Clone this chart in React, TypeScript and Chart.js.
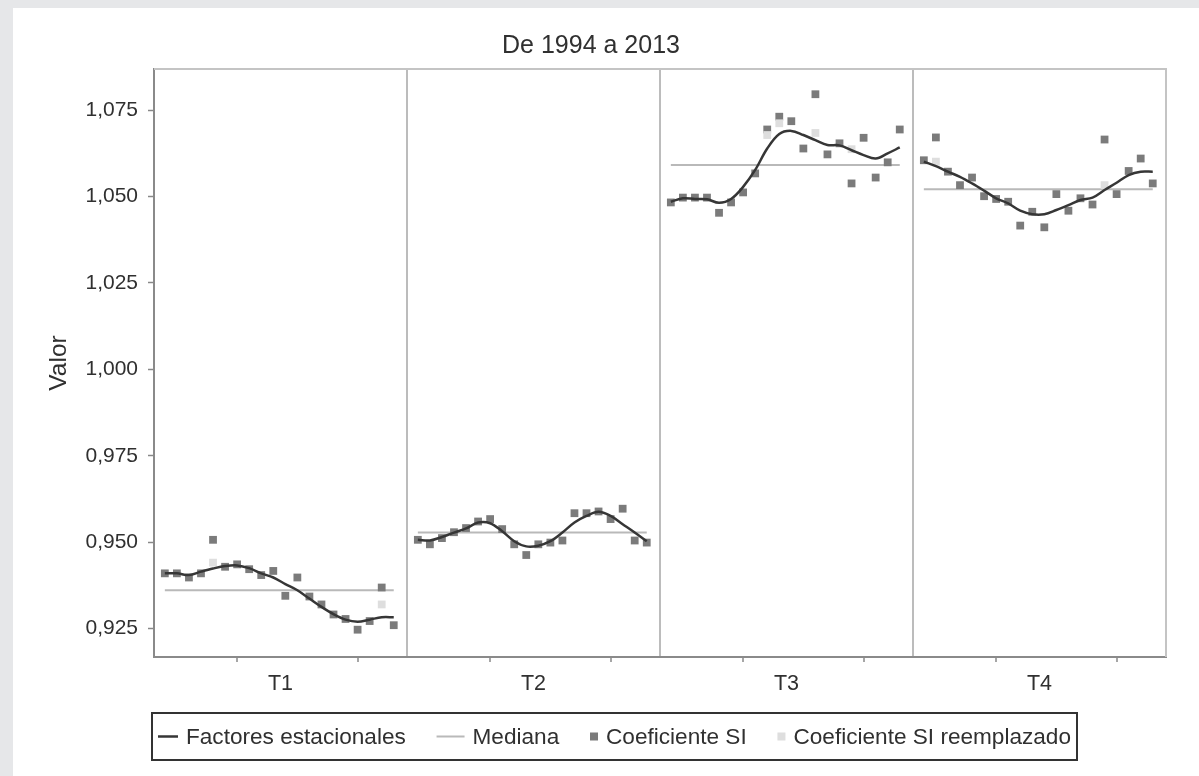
import React, { useEffect, useRef } from 'react';
import { Chart, registerables } from 'chart.js';

Chart.register(...registerables);

// ---------- data ----------
const quarters = ['T1', 'T2', 'T3', 'T4'];
const years = [1994, 1995, 1996, 1997, 1998, 1999, 2000, 2001, 2002, 2003, 2004, 2005, 2006, 2007, 2008, 2009, 2010, 2011, 2012, 2013];
const yearTickYears = [2000, 2010];
const yTickValues = [0.925, 0.95, 0.975, 1.0, 1.025, 1.05, 1.075];

const factorT1 = [0.941, 0.941, 0.9405, 0.9415, 0.9424, 0.9431, 0.9433, 0.9425, 0.941, 0.9398, 0.9379, 0.9361, 0.9337, 0.9313, 0.9292, 0.9276, 0.927, 0.9276, 0.9283, 0.9283];
const factorT2 = [0.9507, 0.9505, 0.9515, 0.9528, 0.954, 0.9557, 0.9555, 0.9532, 0.9503, 0.9488, 0.949, 0.9503, 0.9528, 0.9557, 0.9576, 0.9588, 0.9576, 0.9552, 0.9528, 0.9503];
const factorT3 = [1.0485, 1.0495, 1.0493, 1.0492, 1.0482, 1.0493, 1.0528, 1.0577, 1.0639, 1.0681, 1.069, 1.0678, 1.0663, 1.0649, 1.0648, 1.0634, 1.062, 1.061, 1.0625, 1.0642];
const factorT4 = [1.0601, 1.0588, 1.0572, 1.0557, 1.0538, 1.0517, 1.0495, 1.048, 1.0459, 1.0449, 1.0449, 1.0461, 1.0475, 1.049, 1.0497, 1.0519, 1.054, 1.0562, 1.0572, 1.0572];

const siT1 = [0.941, 0.941, 0.9398, 0.941, 0.9507, 0.9429, 0.9436, 0.9422, 0.9405, 0.9417, 0.9345, 0.9398, 0.9343, 0.932, 0.9291, 0.9278, 0.9247, 0.9272, 0.9369, 0.926];
const siT2 = [0.9507, 0.9494, 0.9512, 0.9529, 0.9541, 0.956, 0.9567, 0.9538, 0.9494, 0.9463, 0.9494, 0.9499, 0.9505, 0.9584, 0.9584, 0.9589, 0.9567, 0.9597, 0.9505, 0.9499];
const siT3 = [1.0483, 1.0497, 1.0497, 1.0497, 1.0453, 1.0483, 1.0512, 1.0567, 1.0694, 1.0731, 1.0718, 1.0639, 1.0796, 1.0622, 1.0654, 1.0538, 1.067, 1.0555, 1.0599, 1.0694];
const siT4 = [1.0605, 1.0671, 1.0572, 1.0533, 1.0555, 1.0501, 1.0493, 1.0485, 1.0416, 1.0456, 1.0411, 1.0507, 1.0459, 1.0495, 1.0477, 1.0665, 1.0507, 1.0574, 1.061, 1.0538];

const N = null;
const replT1 = [N, N, N, N, 0.9441, N, N, N, N, N, N, N, N, N, N, N, N, N, 0.932, N];
const replT2 = [N, N, N, N, N, N, N, N, N, N, N, N, N, N, N, N, N, N, N, N];
const replT3 = [N, N, N, N, N, N, N, N, 1.0678, 1.0712, N, N, 1.0684, N, N, 1.0637, N, N, N, N];
const replT4 = [N, 1.0601, N, N, N, N, N, N, N, N, N, N, N, N, N, 1.0533, N, N, N, N];

const medians = [0.9361, 0.9528, 1.0591, 1.0521];

const legendLabels = ['Factores estacionales', 'Mediana', 'Coeficiente SI', 'Coeficiente SI reemplazado'];

// ---------- styling / layout ----------
const FONT = '"Liberation Sans", Arial, Helvetica, sans-serif';
const TEXT = '#303030';
const COL_FACTOR = '#363636';
const COL_MEDIAN = '#b9b9b9';
const COL_SI = '#7b7b7b';
const COL_REPL = '#dedede';
const PANEL = 21;
const OFF = 0.9;
const xOf = (q: number, i: number) => q * PANEL + OFF + i;

const factors = [factorT1, factorT2, factorT3, factorT4];
const sis = [siT1, siT2, siT3, siT4];
const repls = [replT1, replT2, replT3, replT4];

function linePoints(groups: number[][]) {
  const out: { x: number; y: number | null }[] = [];
  groups.forEach((vals, q) => {
    vals.forEach((v, i) => out.push({ x: xOf(q, i), y: v }));
    if (q < groups.length - 1) out.push({ x: (q + 1) * PANEL, y: null });
  });
  return out;
}
function medianPoints() {
  const out: { x: number; y: number | null }[] = [];
  medians.forEach((m, q) => {
    out.push({ x: xOf(q, 0), y: m });
    out.push({ x: xOf(q, years.length - 1), y: m });
    if (q < medians.length - 1) out.push({ x: (q + 1) * PANEL, y: null });
  });
  return out;
}
function scatterPoints(groups: (number | null)[][]) {
  const out: { x: number; y: number }[] = [];
  groups.forEach((vals, q) =>
    vals.forEach((v, i) => {
      if (v !== null) out.push({ x: xOf(q, i), y: v });
    })
  );
  return out;
}

type TickDef = { value: number; kind: 'sep' | 'label' | 'year'; label: string };
const xTickDefs: TickDef[] = [];
quarters.forEach((name, q) => {
  if (q > 0) xTickDefs.push({ value: q * PANEL, kind: 'sep', label: '' });
  xTickDefs.push({ value: q * PANEL + PANEL / 2, kind: 'label', label: name });
  yearTickYears.forEach((y) => xTickDefs.push({ value: xOf(q, years.indexOf(y)), kind: 'year', label: '' }));
});
xTickDefs.sort((a, b) => a.value - b.value);

const framePlugin = {
  id: 'frame',
  beforeDatasetsDraw(chart: any) {
    const { ctx, chartArea: a } = chart;
    ctx.save();
    ctx.strokeStyle = '#c4c4c4';
    ctx.lineWidth = 2;
    ctx.beginPath();
    ctx.moveTo(a.left, a.top);
    ctx.lineTo(a.right, a.top);
    ctx.lineTo(a.right, a.bottom);
    ctx.stroke();
    ctx.restore();
  },
};

const legendSymbols = [
  { type: 'line', color: COL_FACTOR, w: 20, lw: 2.5 },
  { type: 'line', color: COL_MEDIAN, w: 28, lw: 2 },
  { type: 'rect', color: COL_SI, w: 8, lw: 0 },
  { type: 'rect', color: COL_REPL, w: 8, lw: 0 },
];

const boxLegendPlugin = {
  id: 'boxLegend',
  afterDraw(chart: any) {
    const { ctx, chartArea: a } = chart;
    const left = a.left - 2;
    const right = a.left + 923;
    const top = a.bottom + 56;
    const h = 47;
    ctx.save();
    ctx.font = `22.6px ${FONT}`;
    const widths = legendLabels.map((t) => ctx.measureText(t).width);
    const pad = 6;
    const gapST = 8;
    const content =
      widths.reduce((s, w) => s + w, 0) + legendSymbols.reduce((s, d) => s + d.w, 0) + legendSymbols.length * gapST;
    const gap = (right - left - 2 * pad - content) / (legendLabels.length - 1);
    ctx.strokeStyle = '#333';
    ctx.lineWidth = 2;
    ctx.strokeRect(left, top, right - left, h);
    const cy = top + h / 2;
    let x = left + pad;
    legendLabels.forEach((label, k) => {
      const s = legendSymbols[k];
      if (s.type === 'line') {
        ctx.strokeStyle = s.color;
        ctx.lineWidth = s.lw;
        ctx.beginPath();
        ctx.moveTo(x, cy);
        ctx.lineTo(x + s.w, cy);
        ctx.stroke();
      } else {
        ctx.fillStyle = s.color;
        ctx.fillRect(x, cy - s.w / 2, s.w, s.w);
      }
      x += s.w + gapST;
      ctx.fillStyle = TEXT;
      ctx.textBaseline = 'middle';
      ctx.textAlign = 'left';
      ctx.fillText(label, x, cy + 1);
      x += widths[k] + gap;
    });
    ctx.restore();
  },
};

export default function App() {
  const ref = useRef<HTMLCanvasElement>(null);
  useEffect(() => {
    if (!ref.current) return;
    const chart = new Chart(ref.current, {
      type: 'line',
      data: {
        datasets: [
          {
            label: legendLabels[1],
            data: medianPoints(),
            borderColor: COL_MEDIAN,
            borderWidth: 2,
            pointRadius: 0,
            tension: 0,
            order: 4,
          },
          {
            label: legendLabels[2],
            data: scatterPoints(sis),
            showLine: false,
            pointStyle: 'rect',
            pointRadius: 5.5,
            pointBorderWidth: 0,
            pointBackgroundColor: COL_SI,
            borderColor: COL_SI,
            order: 3,
          },
          {
            label: legendLabels[3],
            data: scatterPoints(repls),
            showLine: false,
            pointStyle: 'rect',
            pointRadius: 5.5,
            pointBorderWidth: 0,
            pointBackgroundColor: COL_REPL,
            borderColor: COL_REPL,
            order: 2,
          },
          {
            label: legendLabels[0],
            data: linePoints(factors),
            borderColor: COL_FACTOR,
            borderWidth: 2.5,
            pointRadius: 0,
            tension: 0.35,
            spanGaps: false,
            order: 1,
          },
        ] as any,
      },
      options: {
        responsive: false,
        devicePixelRatio: 1,
        animation: false,
        layout: { padding: { left: 3, right: 33, top: 0, bottom: 69 } },
        plugins: {
          legend: { display: false },
          tooltip: { enabled: false },
          title: {
            display: true,
            text: 'De 1994 a 2013',
            color: TEXT,
            font: { family: FONT, size: 25, weight: 'normal', lineHeight: 1.2 },
            padding: { top: 23, bottom: 8 },
          },
        },
        scales: {
          x: {
            type: 'linear',
            min: 0,
            max: PANEL * quarters.length,
            afterBuildTicks: (s: any) => {
              s.ticks = xTickDefs.map((d) => ({ value: d.value }));
            },
            afterFit: (s: any) => {
              s.height = 50;
            },
            ticks: {
              autoSkip: false,
              maxRotation: 0,
              minRotation: 0,
              padding: 9,
              color: TEXT,
              font: { family: FONT, size: 21.5 },
              callback: (_v: any, i: number) => xTickDefs[i].label,
            },
            grid: {
              drawOnChartArea: true,
              lineWidth: 2,
              tickLength: 5,
              tickWidth: 1.5,
              color: (c: any) => (xTickDefs[c.index] && xTickDefs[c.index].kind === 'sep' ? '#bcbcbc' : 'rgba(0,0,0,0)'),
              tickColor: (c: any) => (xTickDefs[c.index] && xTickDefs[c.index].kind === 'year' ? '#888888' : 'rgba(0,0,0,0)'),
            },
            border: { color: '#8a8a8a', width: 2 },
          },
          y: {
            type: 'linear',
            min: 0.9168,
            max: 1.0869,
            afterBuildTicks: (s: any) => {
              s.ticks = yTickValues.map((v) => ({ value: v }));
            },
            afterFit: (s: any) => {
              s.width = 138;
            },
            ticks: {
              padding: 10,
              color: TEXT,
              font: { family: FONT, size: 21 },
              callback: (v: any) => Number(v).toFixed(3).replace('.', ','),
            },
            grid: {
              drawOnChartArea: false,
              tickLength: 6,
              tickWidth: 1.5,
              tickColor: '#888888',
            },
            border: { color: '#8a8a8a', width: 2 },
            title: {
              display: true,
              text: 'Valor',
              color: TEXT,
              font: { family: FONT, size: 24.5 },
              padding: { top: 29, bottom: 0 },
            },
          },
        },
      } as any,
      plugins: [framePlugin, boxLegendPlugin],
    });
    return () => chart.destroy();
  }, []);

  return (
    <div style={{ position: 'fixed', inset: 0, background: '#e6e7e9' }}>
      <div style={{ position: 'absolute', left: 13, top: 8, right: 0, bottom: 0, background: '#ffffff' }}>
        <canvas ref={ref} width={1186} height={768} style={{ display: 'block', width: 1186, height: 768 }} />
      </div>
    </div>
  );
}
